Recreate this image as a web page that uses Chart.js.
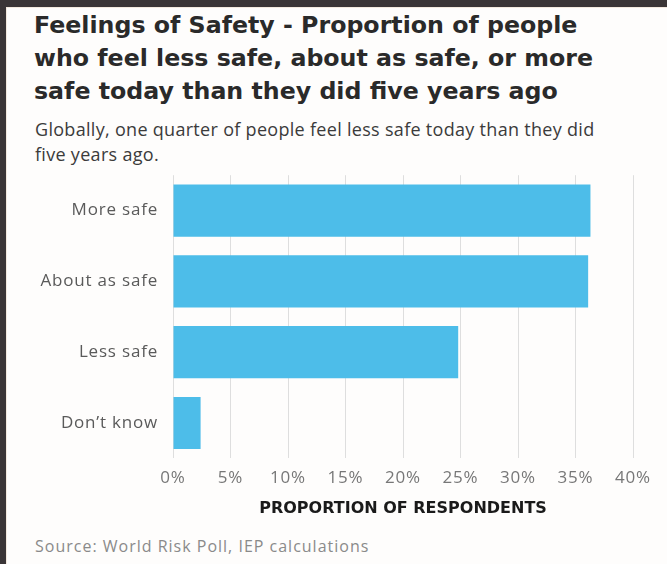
<!DOCTYPE html>
<html lang="en">
<head>
    <meta charset="UTF-8">
    <title>Feelings of Safety</title>
    <style>
        html, body {
            margin: 0;
            padding: 0;
        }
        body {
            width: 667px;
            height: 564px;
            background: #3a3537;
            position: relative;
            overflow: hidden;
        }
        .panel {
            position: absolute;
            left: 6px;
            top: 7px;
            width: 661px;
            height: 557px;
            background: #fefdfc;
            border-left: 1px solid #f3e9df;
            border-top: 1px solid #f3e9df;
        }
        .title {
            position: absolute;
            left: 27px;
            top: 1px;
            width: 630px;
            font-family: "DejaVu Sans", Arial, sans-serif;
            font-weight: 700;
            font-size: 23.7px;
            line-height: 33px;
            color: #2a2a2a;
            white-space: nowrap;
        }
        .subtitle {
            position: absolute;
            left: 28px;
            top: 109px;
            width: 630px;
            font-family: "Open Sans", Arial, sans-serif;
            font-size: 18px;
            line-height: 25px;
            letter-spacing: 0.3px;
            color: #3b3b3b;
            white-space: nowrap;
        }
        .source {
            position: absolute;
            left: 28px;
            top: 527px;
            font-family: "Open Sans", Arial, sans-serif;
            font-size: 16px;
            letter-spacing: 1px;
            color: #8a8a8a;
        }
        #chartBox {
            position: absolute;
            left: 0;
            top: 150px;
            width: 661px;
            height: 360px;
        }
    </style>
    <script src="https://cdn.jsdelivr.net/npm/chart.js"></script>
</head>
<body>
    <div class="panel">
        <div class="title">Feelings of Safety - Proportion of people<br>who feel less safe, about as safe, or more<br>safe today than they did five years ago</div>
        <div class="subtitle">Globally, one quarter of people feel less safe today than they did<br>five years ago.</div>
        <div id="chartBox">
            <canvas id="safetyChart"></canvas>
        </div>
        <div class="source">Source: World Risk Poll, IEP calculations</div>
    </div>

    <script>
        // Survey answers and share of respondents (%)
        const categories = ['More safe', 'About as safe', 'Less safe', 'Don\u2019t know'];
        const shares = [36.3, 36.1, 24.8, 2.4];
        const xTicks = [0, 5, 10, 15, 20, 25, 30, 35, 40];

        // tick labels (z: 1) are drawn after the bars, so only they get the tracking
        const spacedTicks = {
            id: 'spacedTicks',
            beforeDraw(chart) {
                chart.ctx.letterSpacing = '0px';
            },
            afterDatasetsDraw(chart) {
                chart.ctx.letterSpacing = '0.8px';
            },
            afterDraw(chart) {
                chart.ctx.letterSpacing = '0px';
            }
        };

        const ctx = document.getElementById('safetyChart').getContext('2d');
        new Chart(ctx, {
            type: 'bar',
            data: {
                labels: categories,
                datasets: [{
                    data: shares,
                    backgroundColor: '#4dbde9',
                    borderWidth: 0,
                    barPercentage: 0.737,
                    categoryPercentage: 1.0
                }]
            },
            options: {
                indexAxis: 'y',
                responsive: true,
                maintainAspectRatio: false,
                animation: false,
                layout: {
                    padding: { top: 0, right: 35, bottom: 0, left: 0 }
                },
                plugins: {
                    legend: { display: false },
                    tooltip: { enabled: false }
                },
                scales: {
                    x: {
                        min: 0,
                        max: 40,
                        afterBuildTicks: axis => {
                            axis.ticks = xTicks.map(v => ({ value: v }));
                        },
                        grid: {
                            color: '#dedede',
                            lineWidth: 1,
                            drawTicks: false
                        },
                        border: { display: false },
                        ticks: {
                            z: 1,
                            callback: v => v + '%',
                            color: '#777777',
                            padding: 10,
                            font: { family: '"Open Sans", Arial, sans-serif', size: 17 }
                        },
                        title: {
                            display: true,
                            text: 'PROPORTION OF RESPONDENTS',
                            color: '#1a1a1a',
                            padding: { top: 0, bottom: 0 },
                            font: { family: '"DejaVu Sans", Arial, sans-serif', size: 16, weight: 'bold' }
                        }
                    },
                    y: {
                        grid: { display: false },
                        border: { display: false },
                        afterFit: scale => { scale.width = 166; },
                        ticks: {
                            z: 1,
                            color: '#5a5a5a',
                            padding: 7,
                            font: { family: '"Open Sans", Arial, sans-serif', size: 17 }
                        }
                    }
                }
            },
            plugins: [spacedTicks]
        });
    </script>
</body>
</html>
